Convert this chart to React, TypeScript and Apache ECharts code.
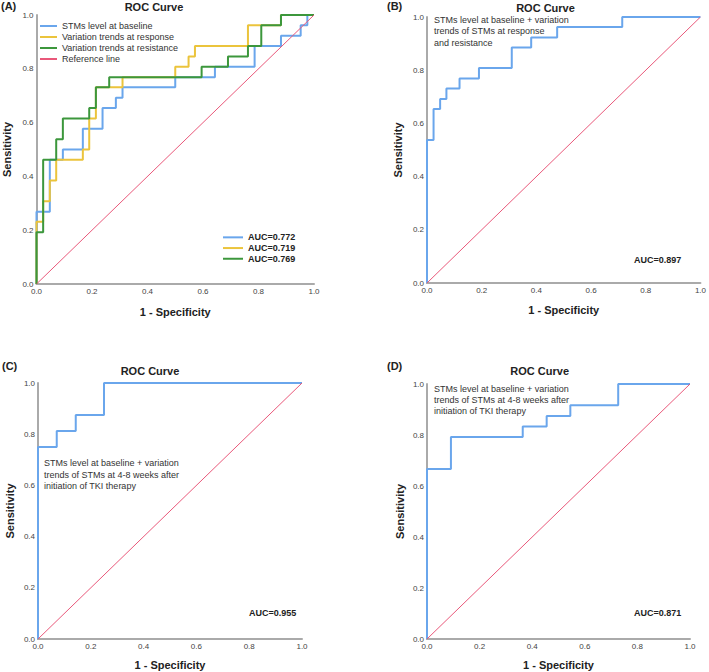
import React, { useEffect, useRef } from "react";
import * as echarts from "echarts";

// ---------- Data ----------
// Panel A
const A_BASE_FPR = [0, 0, 0.048, 0.095, 0.167, 0.238, 0.286, 0.31, 0.5, 0.643, 0.786, 0.881, 0.952, 0.976, 1];
const A_BASE_TPR = [0, 0.269, 0.462, 0.5, 0.577, 0.654, 0.692, 0.731, 0.769, 0.808, 0.885, 0.923, 0.962, 1.0, 1.0];
const A_RESP_FPR = [0, 0, 0.024, 0.048, 0.071, 0.167, 0.19, 0.214, 0.31, 0.5, 0.548, 0.571, 0.762, 0.881, 1];
const A_RESP_TPR = [0, 0.231, 0.308, 0.385, 0.462, 0.5, 0.615, 0.731, 0.769, 0.808, 0.846, 0.885, 0.962, 1.0, 1.0];
const A_RES_FPR = [0, 0, 0.024, 0.071, 0.095, 0.19, 0.214, 0.262, 0.595, 0.69, 0.762, 0.81, 0.881, 1];
const A_RES_TPR = [0, 0.192, 0.462, 0.538, 0.615, 0.654, 0.731, 0.769, 0.808, 0.846, 0.885, 0.962, 1.0, 1.0];
const A_NAMES = ["STMs level at baseline", "Variation trends at response", "Variation trends at resistance", "Reference line"];
const A_AUC = ["AUC=0.772", "AUC=0.719", "AUC=0.769"];

// Panel B
const B_FPR = [0, 0, 0.024, 0.048, 0.071, 0.119, 0.19, 0.31, 0.381, 0.476, 0.714, 1];
const B_TPR = [0, 0.538, 0.654, 0.692, 0.731, 0.769, 0.808, 0.885, 0.923, 0.962, 1.0, 1.0];
const B_AUC = "AUC=0.897";

// Panel C
const C_FPR = [0, 0, 0.071, 0.143, 0.25, 1];
const C_TPR = [0, 0.75, 0.8125, 0.875, 1.0, 1.0];
const C_AUC = "AUC=0.955";

// Panel D
const D_FPR = [0, 0, 0.091, 0.364, 0.455, 0.545, 0.727, 1];
const D_TPR = [0, 0.667, 0.792, 0.833, 0.875, 0.917, 1.0, 1.0];
const D_AUC = "AUC=0.871";

const REF_X = [0, 1];
const REF_Y = [0, 1];

const PANEL_LABELS = ["(A)", "(B)", "(C)", "(D)"];
const TITLE = "ROC Curve";
const X_NAME = "1 - Specificity";
const Y_NAME = "Sensitivity";
const NOTE_B = "STMs level at baseline + variation\ntrends of STMs at response\nand resistance";
const NOTE_CD = "STMs level at baseline + variation\ntrends of STMs at 4-8 weeks after\ninitiation of TKI therapy";

// ---------- Styles ----------
const FONT = 'Arial, "Liberation Sans", Helvetica, sans-serif';
const BLUE = "#6aa6ec";
const YELLOW = "#ebc43c";
const GREEN = "#3c973c";
const REF = "#e9587a";
const AXIS = "#aaaaaa";

const zip = (xs: number[], ys: number[]) => xs.map((x, i) => [x, ys[i]]);

export default function App() {
  const ref = useRef<HTMLDivElement>(null);

  useEffect(() => {
    if (!ref.current) return;
    const chart = echarts.init(ref.current, undefined, { renderer: "svg" });

    const grids = [
      { left: 36, top: 15, width: 278, height: 269 },
      { left: 427, top: 17, width: 276, height: 266 },
      { left: 38, top: 383, width: 264, height: 256 },
      { left: 427, top: 384, width: 263, height: 255 },
    ];
    const xGaps = [22, 21.5, 20, 20];
    const yGaps = [24.5, 24, 22.5, 21.5];

    const labelStyle = {
      margin: 3,
      fontSize: 8,
      color: "#444",
      fontFamily: FONT,
      formatter: (v: number) => v.toFixed(1),
    };
    const nameStyle = { fontFamily: FONT, fontSize: 11, fontWeight: "bold", color: "#222" };
    const axisLine = { show: true, onZero: false, lineStyle: { color: AXIS, width: 2 } };

    const xAxis = grids.map((_, i) => ({
      gridIndex: i,
      type: "value",
      min: 0,
      max: 1,
      interval: 0.2,
      name: X_NAME,
      nameLocation: "middle",
      nameGap: xGaps[i],
      nameTextStyle: nameStyle,
      axisLine,
      axisTick: { show: false },
      splitLine: { show: false },
      axisLabel: labelStyle,
    }));
    const yAxis = grids.map((_, i) => ({
      gridIndex: i,
      type: "value",
      min: 0,
      max: 1,
      interval: 0.2,
      name: Y_NAME,
      nameLocation: "middle",
      nameGap: yGaps[i],
      nameTextStyle: nameStyle,
      axisLine,
      axisTick: { show: false },
      splitLine: { show: false },
      axisLabel: labelStyle,
    }));

    const roc = (name: string, idx: number, xs: number[], ys: number[], color: string) => ({
      name,
      type: "line",
      xAxisIndex: idx,
      yAxisIndex: idx,
      step: "end",
      data: zip(xs, ys),
      showSymbol: false,
      symbol: "none",
      lineStyle: { color, width: 2 },
      itemStyle: { color },
      silent: true,
    });
    const refLine = (name: string, idx: number) => ({
      name,
      type: "line",
      xAxisIndex: idx,
      yAxisIndex: idx,
      data: zip(REF_X, REF_Y),
      showSymbol: false,
      symbol: "none",
      lineStyle: { color: REF, width: 1 },
      itemStyle: { color: REF },
      silent: true,
    });
    const dummy = (name: string, color: string) => ({
      name,
      type: "line",
      xAxisIndex: 0,
      yAxisIndex: 0,
      data: [],
      symbol: "none",
      lineStyle: { color, width: 2 },
      itemStyle: { color },
    });

    const series = [
      roc(A_NAMES[0], 0, A_BASE_FPR, A_BASE_TPR, BLUE),
      roc(A_NAMES[1], 0, A_RESP_FPR, A_RESP_TPR, YELLOW),
      roc(A_NAMES[2], 0, A_RES_FPR, A_RES_TPR, GREEN),
      refLine(A_NAMES[3], 0),
      dummy(A_AUC[0], BLUE),
      dummy(A_AUC[1], YELLOW),
      dummy(A_AUC[2], GREEN),
      roc("B curve", 1, B_FPR, B_TPR, BLUE),
      refLine("B ref", 1),
      roc("C curve", 2, C_FPR, C_TPR, BLUE),
      refLine("C ref", 2),
      roc("D curve", 3, D_FPR, D_TPR, BLUE),
      refLine("D ref", 3),
    ];

    const legendBase = {
      orient: "vertical",
      icon: "rect",
      itemHeight: 2,
      itemGap: 0,
      padding: 0,
      selectedMode: false,
    };

    const text = (x: number, y: number, t: string, extra: any = {}) => ({
      type: "text",
      x,
      y,
      silent: true,
      style: {
        text: t,
        fontFamily: FONT,
        fontSize: 9,
        fill: "#333",
        ...extra,
      },
    });

    const graphic = [
      text(1, 6, PANEL_LABELS[0], { fontSize: 11, fontWeight: "bold", fill: "#222", verticalAlign: "middle" }),
      text(387, 6, PANEL_LABELS[1], { fontSize: 11, fontWeight: "bold", fill: "#222", verticalAlign: "middle" }),
      text(2, 366, PANEL_LABELS[2], { fontSize: 11, fontWeight: "bold", fill: "#222", verticalAlign: "middle" }),
      text(387, 366, PANEL_LABELS[3], { fontSize: 11, fontWeight: "bold", fill: "#222", verticalAlign: "middle" }),
      text(154, 6.5, TITLE, { fontSize: 11, fontWeight: "bold", fill: "#222", align: "center", verticalAlign: "middle" }),
      text(545.5, 7.5, TITLE, { fontSize: 11, fontWeight: "bold", fill: "#222", align: "center", verticalAlign: "middle" }),
      text(150, 371, TITLE, { fontSize: 11, fontWeight: "bold", fill: "#222", align: "center", verticalAlign: "middle" }),
      text(539.7, 371, TITLE, { fontSize: 11, fontWeight: "bold", fill: "#222", align: "center", verticalAlign: "middle" }),
      text(434, 14.5, NOTE_B, { lineHeight: 11.2 }),
      text(44, 457.8, NOTE_CD, { lineHeight: 11.2 }),
      text(434, 383.5, NOTE_CD, { lineHeight: 11 }),
      text(634, 260, B_AUC, { fontWeight: "bold", fill: "#222", verticalAlign: "middle" }),
      text(249, 613.3, C_AUC, { fontWeight: "bold", fill: "#222", verticalAlign: "middle" }),
      text(634, 613.3, D_AUC, { fontWeight: "bold", fill: "#222", verticalAlign: "middle" }),
    ];

    chart.setOption({
      animation: false,
      backgroundColor: "#ffffff",
      grid: grids.map((g) => ({ ...g, containLabel: false })),
      xAxis,
      yAxis,
      legend: [
        {
          ...legendBase,
          left: 40,
          top: 20.5,
          itemWidth: 17,
          data: A_NAMES,
          textStyle: { fontFamily: FONT, fontSize: 9, color: "#333", lineHeight: 11 },
        },
        {
          ...legendBase,
          left: 223,
          top: 232,
          itemWidth: 20,
          data: A_AUC,
          textStyle: { fontFamily: FONT, fontSize: 9, fontWeight: "bold", color: "#222", lineHeight: 10.7 },
        },
      ],
      series,
      graphic,
    });

    return () => chart.dispose();
  }, []);

  return (
    <div
      ref={ref}
      style={{ position: "fixed", left: 0, top: 0, width: 709, height: 672, background: "#fff" }}
    />
  );
}
